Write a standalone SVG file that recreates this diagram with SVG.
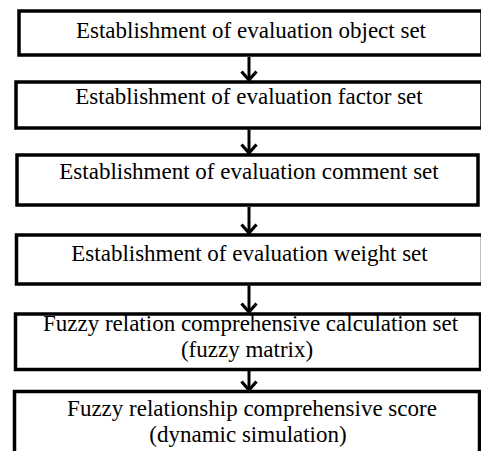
<svg xmlns="http://www.w3.org/2000/svg" width="481" height="451" viewBox="0 0 481 451">
<defs>
<style>
.box{fill:#fff;stroke:#000;stroke-width:3.5}
.t{font-family:'Liberation Serif','Times New Roman',serif;font-size:23px;fill:#000;text-anchor:middle}
.c{stroke:#000;stroke-width:3;fill:none}
</style>
<marker id="ah" markerWidth="12" markerHeight="18" refX="10" refY="9" orient="auto" markerUnits="userSpaceOnUse" viewBox="0 0 12 18">
<path d="M1.5,1.5 L10,9 L1.5,16.5" fill="none" stroke="#000" stroke-width="3.2"/>
</marker>
</defs>
<rect width="481" height="451" fill="#fff"/>
<g id="n1"><rect class="box" x="19" y="11" width="463" height="44" stroke-width="4"/><text class="t" font-family="Liberation Serif, serif" x="251" y="38">Establishment of evaluation object set</text></g>
<g id="n2"><rect class="box" x="16" y="82" width="466" height="46" stroke-width="3"/><text class="t" font-family="Liberation Serif, serif" x="249" y="104">Establishment of evaluation factor set</text></g>
<g id="n3"><rect class="box" x="17" y="155" width="461" height="50" stroke-width="4"/><text class="t" font-family="Liberation Serif, serif" x="249" y="179">Establishment of evaluation comment set</text></g>
<g id="n4"><rect class="box" x="16.5" y="235" width="466" height="49"/><text class="t" font-family="Liberation Serif, serif" x="249.5" y="261">Establishment of evaluation weight set</text></g>
<g id="n5"><rect class="box" x="15.5" y="314" width="465" height="55.5"/><text class="t" font-family="Liberation Serif, serif" x="250.5" y="331">Fuzzy relation comprehensive calculation set</text><text class="t" font-family="Liberation Serif, serif" x="247" y="357">(fuzzy matrix)</text></g>
<g id="n6"><rect class="box" x="14.5" y="391.5" width="465" height="70"/><text class="t" font-family="Liberation Serif, serif" x="252" y="416">Fuzzy relationship comprehensive score</text><text class="t" font-family="Liberation Serif, serif" x="248" y="442">(dynamic simulation)</text></g>
<g id="connectors">
<line class="c" x1="249" y1="57" x2="249" y2="80" marker-end="url(#ah)"/>
<line class="c" x1="249" y1="129.5" x2="249" y2="153" marker-end="url(#ah)"/>
<line class="c" x1="249" y1="207" x2="249" y2="233" marker-end="url(#ah)"/>
<line class="c" x1="249" y1="285.5" x2="249" y2="312" marker-end="url(#ah)"/>
<line class="c" x1="249" y1="371" x2="249" y2="390" marker-end="url(#ah)"/>
</g>
</svg>
